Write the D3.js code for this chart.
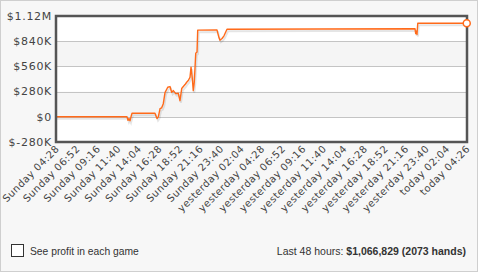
<!DOCTYPE html>
<html>
<head>
<meta charset="utf-8">
<script src="https://cdn.jsdelivr.net/npm/d3@7"></script>
<style>
  body { margin: 0; background: #fff; }
  #chart { width: 478px; height: 272px; }
</style>
</head>
<body>
<div id="chart"></div>
<script>
// hours since Sunday 04:28 and cumulative profit
var hours = [0, 8.29, 8.41, 8.53, 8.64, 8.76, 8.88, 11.56, 11.68, 11.80, 11.95, 12.15, 12.34, 12.53, 12.73,
    13.05, 13.31, 13.51, 13.70, 13.98, 14.28, 14.48, 14.68, 14.87, 15.07, 15.26, 15.45, 15.65, 15.77,
    15.92, 16.03, 16.15, 16.32, 16.47, 16.55, 18.80, 19.03, 19.15, 19.39, 19.62, 19.97, 41.93, 42.01,
    42.08, 42.16, 42.25, 47.97];
var profit = [0, 0, -40000, -20000, -45000, 0, 40000, 40000, 10000, -20000, 0, 90000, 100000, 146000, 269000,
    328000, 336000, 272000, 291000, 258000, 261000, 179000, 314000, 336000, 358000, 384000, 403000, 440000, 552000,
    426000, 291000, 384000, 706000, 720000, 963000, 965000, 880000, 851000, 870000, 900000, 972000, 978000, 925000,
    950000, 915000, 1040000, 1040000];

var yTicks = [-280000, 0, 280000, 560000, 840000, 1120000];
var yLabels = ["$-280K", "$0", "$280K", "$560K", "$840K", "$1.12M"];

var xTickHours = [0, 2.4, 4.8, 7.2, 9.6, 12, 14.4, 16.8, 19.2, 21.6, 24, 26.4, 28.8, 31.2, 33.6, 36, 38.4, 40.8, 43.2, 45.6, 47.97];
var xLabels = ["Sunday 04:28", "Sunday 06:52", "Sunday 09:16", "Sunday 11:40", "Sunday 14:04", "Sunday 16:28",
    "Sunday 18:52", "Sunday 21:16", "Sunday 23:40", "yesterday 02:04", "yesterday 04:28", "yesterday 06:52",
    "yesterday 09:16", "yesterday 11:40", "yesterday 14:04", "yesterday 16:28", "yesterday 18:52",
    "yesterday 21:16", "yesterday 23:40", "today 02:04", "today 04:26"];

var data = hours.map(function(h, i) { return {h: h, v: profit[i]}; });

var W = 478, H = 272;
var plot = {left: 56, right: 467, top: 16, bottom: 142};

var svg = d3.select("#chart").append("svg")
    .attr("width", W)
    .attr("height", H);

// outer panel
svg.append("rect")
    .attr("x", 0.5).attr("y", 0.5)
    .attr("width", W - 1).attr("height", H - 1)
    .attr("fill", "#f7f7f7")
    .attr("stroke", "#cfcfcf");

var x = d3.scaleLinear().domain([0, 48]).range([plot.left, plot.right]);
var y = d3.scaleLinear().domain([-280000, 1120000]).range([plot.bottom, plot.top]);

// alternating bands
var bands = d3.pairs(yTicks);
svg.selectAll("rect.band")
    .data(bands)
    .enter().append("rect")
    .attr("class", "band")
    .attr("x", plot.left)
    .attr("width", plot.right - plot.left)
    .attr("y", function(d) { return y(d[1]); })
    .attr("height", function(d) { return y(d[0]) - y(d[1]); })
    .attr("fill", function(d, i) { return i % 2 == 0 ? "#ffffff" : "#f5f5f5"; });

// grid lines
svg.selectAll("line.grid")
    .data(yTicks.slice(1, -1))
    .enter().append("line")
    .attr("class", "grid")
    .attr("x1", plot.left).attr("x2", plot.right)
    .attr("y1", function(d) { return Math.round(y(d)) + 0.5; })
    .attr("y2", function(d) { return Math.round(y(d)) + 0.5; })
    .attr("stroke", "#c4c4c4");

// y labels
svg.selectAll("text.ylab")
    .data(yTicks)
    .enter().append("text")
    .attr("class", "ylab")
    .attr("x", plot.left - 4)
    .attr("y", function(d) { return y(d); })
    .attr("dy", "0.35em")
    .attr("text-anchor", "end")
    .attr("font-family", "DejaVu Sans, Verdana, sans-serif")
    .attr("font-size", 11)
    .attr("letter-spacing", 0.7)
    .attr("fill", "#444")
    .text(function(d, i) { return yLabels[i]; });

// x labels, rotated
svg.selectAll("text.xlab")
    .data(xTickHours)
    .enter().append("text")
    .attr("class", "xlab")
    .attr("transform", function(d) { return "translate(" + (x(d) + 1.5) + "," + (plot.bottom + 5) + ") rotate(-45)"; })
    .attr("dy", "0.35em")
    .attr("text-anchor", "end")
    .attr("font-family", "DejaVu Sans, Verdana, sans-serif")
    .attr("font-size", 10)
    .attr("letter-spacing", 0.5)
    .attr("fill", "#444")
    .text(function(d, i) { return xLabels[i]; });

var line = d3.line()
    .x(function(d) { return x(d.h); })
    .y(function(d) { return y(d.v); });

// shadow under line
svg.append("path")
    .datum(data)
    .attr("d", line)
    .attr("transform", "translate(1,2)")
    .attr("fill", "none")
    .attr("stroke", "#000")
    .attr("stroke-opacity", 0.1)
    .attr("stroke-width", 2);

svg.append("path")
    .datum(data)
    .attr("d", line)
    .attr("fill", "none")
    .attr("stroke", "#ff6a1a")
    .attr("stroke-width", 1.4)
    .attr("stroke-linejoin", "round");

// frame
svg.append("rect")
    .attr("x", plot.left).attr("y", plot.top)
    .attr("width", plot.right - plot.left).attr("height", plot.bottom - plot.top)
    .attr("fill", "none")
    .attr("stroke", "#555")
    .attr("stroke-width", 2.5);

// end marker
var last = data[data.length - 1];
svg.append("circle")
    .attr("cx", x(last.h))
    .attr("cy", y(last.v))
    .attr("r", 3.5)
    .attr("fill", "#fff")
    .attr("stroke", "#ff6a1a")
    .attr("stroke-width", 1.5);

// footer
svg.append("rect")
    .attr("x", 11.5).attr("y", 244.5)
    .attr("width", 12).attr("height", 12)
    .attr("fill", "#fff")
    .attr("stroke", "#333");

svg.append("text")
    .attr("x", 30).attr("y", 255)
    .attr("font-family", "Liberation Sans, Arial, sans-serif")
    .attr("font-size", 10.3)
    .attr("fill", "#333")
    .text("See profit in each game");

var footer = svg.append("text")
    .attr("x", 466).attr("y", 255)
    .attr("text-anchor", "end")
    .attr("font-family", "Liberation Sans, Arial, sans-serif")
    .attr("font-size", 10.5)
    .attr("fill", "#333");
footer.append("tspan").text("Last 48 hours: ");
footer.append("tspan").attr("font-weight", "bold").text("$1,066,829 (2073 hands)");
</script>
</body>
</html>
